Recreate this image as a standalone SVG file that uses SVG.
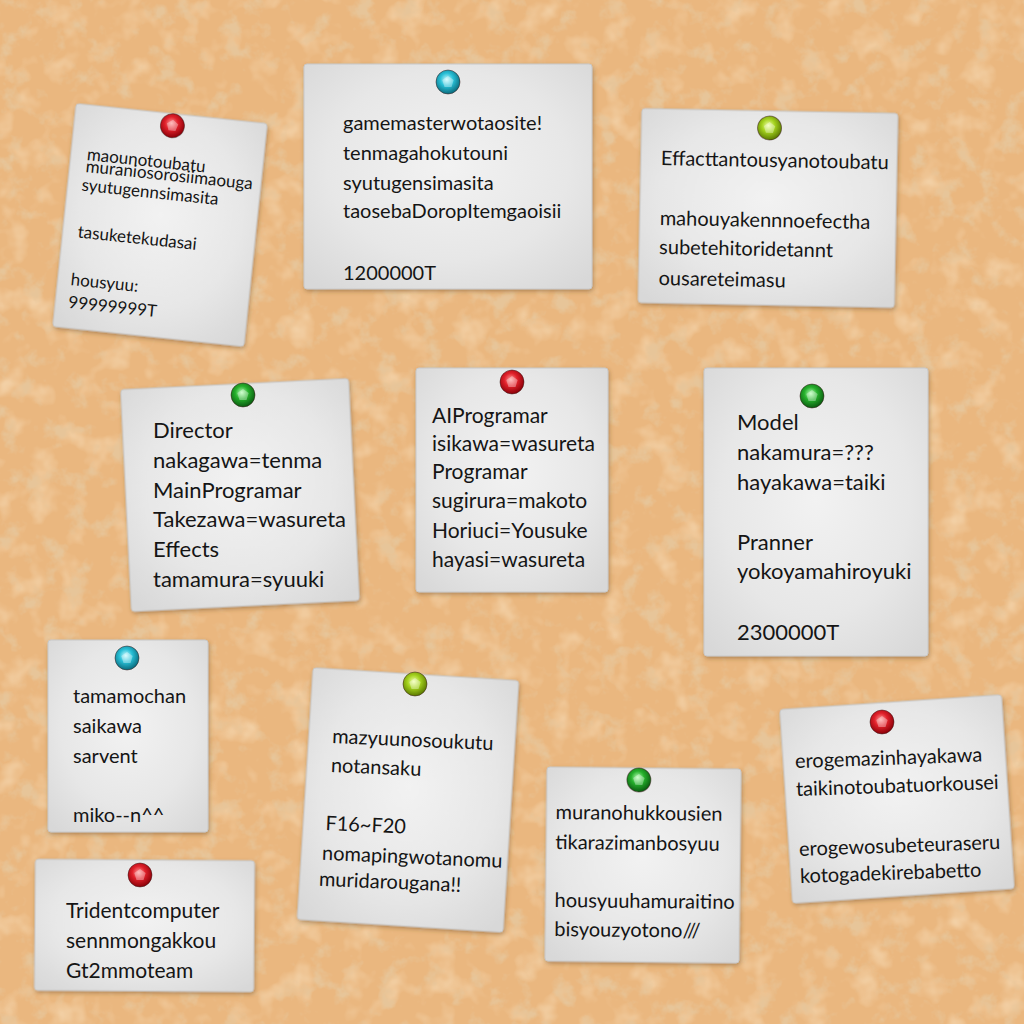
<svg xmlns="http://www.w3.org/2000/svg" width="1024" height="1024" viewBox="0 0 1024 1024">
<defs>
<filter id="corkDark" x="0" y="0" width="100%" height="100%">
<feTurbulence type="fractalNoise" baseFrequency="0.045" numOctaves="4" seed="7"/>
<feColorMatrix type="matrix" values="0 0 0 0 0.80  0 0 0 0 0.56  0 0 0 0 0.32  4 0 0 0 -2.15"/>
</filter>
<filter id="corkLight" x="0" y="0" width="100%" height="100%">
<feTurbulence type="fractalNoise" baseFrequency="0.035" numOctaves="3" seed="21"/>
<feColorMatrix type="matrix" values="0 0 0 0 0.96  0 0 0 0 0.80  0 0 0 0 0.58  0 1.4 0 0 -0.72"/>
</filter>
<filter id="shadow" x="-10%" y="-10%" width="120%" height="120%">
<feDropShadow dx="1" dy="2" stdDeviation="2" flood-color="#6b4a20" flood-opacity="0.45"/>
</filter>
<radialGradient id="paper" cx="50%" cy="45%" r="70%">
<stop offset="0" stop-color="#f2f2f2"/>
<stop offset="0.6" stop-color="#e7e7e7"/>
<stop offset="1" stop-color="#d8d8d8"/>
</radialGradient>
<radialGradient id="gRed" cx="45%" cy="40%" r="60%">
<stop offset="0" stop-color="#ff9a9a"/>
<stop offset="0.45" stop-color="#e0202a"/>
<stop offset="1" stop-color="#8a0008"/>
</radialGradient>
<radialGradient id="gCyan" cx="45%" cy="40%" r="60%">
<stop offset="0" stop-color="#c8fbff"/>
<stop offset="0.45" stop-color="#28bfd6"/>
<stop offset="1" stop-color="#0a6a7c"/>
</radialGradient>
<radialGradient id="gLime" cx="45%" cy="40%" r="60%">
<stop offset="0" stop-color="#f0ffa8"/>
<stop offset="0.45" stop-color="#a4d21e"/>
<stop offset="1" stop-color="#5a7800"/>
</radialGradient>
<radialGradient id="gGreen" cx="45%" cy="40%" r="60%">
<stop offset="0" stop-color="#b4ffb4"/>
<stop offset="0.45" stop-color="#26b02c"/>
<stop offset="1" stop-color="#0a5a10"/>
</radialGradient>
<g id="facet">
<polygon points="0,-6 5.7,-1.9 3.5,4.9 -3.5,4.9 -5.7,-1.9" fill="#ffffff" fill-opacity="0.35"/>
</g>
</defs>
<style>
.paper { fill: url(#paper); stroke: #c8c8c8; stroke-width: 1; filter: url(#shadow); }
.pin { stroke: #3a1a1a; stroke-opacity: 0.5; stroke-width: 1; }
.red { fill: url(#gRed); }
.cyan { fill: url(#gCyan); }
.lime { fill: url(#gLime); }
.green { fill: url(#gGreen); }
.t { font-family: "Lato", "Open Sans", "DejaVu Sans", sans-serif; fill: #151515; }
.s17 { font-size: 17px; }
.s20 { font-size: 20px; }
.s21 { font-size: 21px; }
.s22 { font-size: 22px; }
</style>

<g id="board">
<rect x="0" y="0" width="1024" height="1024" fill="#eab77f"/>
<rect x="0" y="0" width="1024" height="1024" filter="url(#corkLight)"/>
<rect x="0" y="0" width="1024" height="1024" filter="url(#corkDark)"/>
</g>

<g id="note-maou" transform="rotate(6 160 225)">
<rect class="paper" x="64" y="113" width="192" height="224" rx="3"/>
<circle class="pin red" cx="162" cy="125" r="12"/>
<use href="#facet" x="162" y="125"/>
<g class="t s17">
<text x="80" y="168">maounotoubatu</text>
<text x="80" y="180">muraniosorosiimaouga</text>
<text x="78" y="199">syutugennsimasita</text>
<text x="79" y="246">tasuketekudasai</text>
<text x="77" y="294">housyuu:</text>
<text x="77" y="317">99999999T</text>
</g>
</g>

<g id="note-gamemaster">
<rect class="paper" x="304" y="64" width="288" height="225" rx="3"/>
<circle class="pin cyan" cx="448" cy="82" r="12"/>
<use href="#facet" x="448" y="82"/>
<g class="t s20">
<text x="343" y="130">gamemasterwotaosite!</text>
<text x="343" y="160">tenmagahokutouni</text>
<text x="343" y="190">syutugensimasita</text>
<text x="343" y="218">taosebaDoropItemgaoisii</text>
<text x="343" y="280">1200000T</text>
</g>
</g>

<g id="note-effact" transform="rotate(1.1 768 208)">
<rect class="paper" x="640" y="111" width="256" height="194" rx="3"/>
<circle class="pin lime" cx="768" cy="128" r="12"/>
<use href="#facet" x="768" y="128"/>
<g class="t s20">
<text x="660" y="167">Effacttantousyanotoubatu</text>
<text x="660" y="227">mahouyakennnoefectha</text>
<text x="660" y="256">subetehitoridetannt</text>
<text x="660" y="287">ousareteimasu</text>
</g>
</g>

<g id="note-director">
<rect class="paper" x="126" y="384" width="228" height="222" rx="3" transform="rotate(-2.8 240 495)"/>
<circle class="pin green" cx="243" cy="395" r="12"/>
<use href="#facet" x="243" y="395"/>
<g class="t s22">
<text x="153" y="438">Director</text>
<text x="153" y="468">nakagawa=tenma</text>
<text x="153" y="498">MainProgramar</text>
<text x="153" y="527">Takezawa=wasureta</text>
<text x="153" y="557">Effects</text>
<text x="153" y="587">tamamura=syuuki</text>
</g>
</g>

<g id="note-ai">
<rect class="paper" x="416" y="368" width="192" height="224" rx="3"/>
<circle class="pin red" cx="512" cy="382" r="12"/>
<use href="#facet" x="512" y="382"/>
<g class="t s21">
<text x="432" y="423">AIProgramar</text>
<text x="432" y="451">isikawa=wasureta</text>
<text x="432" y="479">Programar</text>
<text x="432" y="508">sugirura=makoto</text>
<text x="432" y="538">Horiuci=Yousuke</text>
<text x="432" y="567">hayasi=wasureta</text>
</g>
</g>

<g id="note-model">
<rect class="paper" x="704" y="368" width="224" height="288" rx="3"/>
<circle class="pin green" cx="812" cy="396" r="12"/>
<use href="#facet" x="812" y="396"/>
<g class="t s22">
<text x="737" y="430">Model</text>
<text x="737" y="460">nakamura=???</text>
<text x="737" y="490">hayakawa=taiki</text>
<text x="737" y="550">Pranner</text>
<text x="737" y="579">yokoyamahiroyuki</text>
<text x="737" y="640">2300000T</text>
</g>
</g>

<g id="note-tamamochan">
<rect class="paper" x="48" y="640" width="160" height="192" rx="3"/>
<circle class="pin cyan" cx="127" cy="658" r="12"/>
<use href="#facet" x="127" y="658"/>
<g class="t s20">
<text x="73" y="703">tamamochan</text>
<text x="73" y="733">saikawa</text>
<text x="73" y="763">sarvent</text>
<text x="73" y="822">miko--n^^</text>
</g>
</g>

<g id="note-trident">
<rect class="paper" x="35" y="860" width="219" height="131" rx="3" transform="rotate(0.4 144 925)"/>
<circle class="pin red" cx="140" cy="875" r="12"/>
<use href="#facet" x="140" y="875"/>
<g class="t s21">
<text x="66" y="918">Tridentcomputer</text>
<text x="66" y="948">sennmongakkou</text>
<text x="66" y="978">Gt2mmoteam</text>
</g>
</g>

<g id="note-mazyuu">
<rect class="paper" x="305" y="674" width="206" height="252" rx="3" transform="rotate(3.6 408 800)"/>
<circle class="pin lime" cx="415" cy="684" r="12"/>
<use href="#facet" x="415" y="684"/>
<g class="t s20" transform="rotate(2.5 328 810)">
<text x="329" y="743">mazyuunosoukutu</text>
<text x="329" y="772">notansaku</text>
<text x="326" y="830">F16~F20</text>
<text x="324" y="860">nomapingwotanomu</text>
<text x="322" y="886">muridarougana!!</text>
</g>
</g>

<g id="note-muranohukkou" transform="rotate(0.6 643 865)">
<rect class="paper" x="546" y="768" width="194" height="194" rx="3"/>
<circle class="pin green" cx="638" cy="780" r="12"/>
<use href="#facet" x="638" y="780"/>
<g class="t s20">
<text x="555" y="820">muranohukkousien</text>
<text x="555" y="850">tikarazimanbosyuu</text>
<text x="555" y="908">housyuuhamuraitino</text>
<text x="555" y="937">bisyouzyotono///</text>
</g>
</g>

<g id="note-erogemazin">
<rect class="paper" x="786" y="702" width="222" height="194" rx="3" transform="rotate(-3.8 897 799)"/>
<circle class="pin red" cx="882" cy="722" r="12"/>
<use href="#facet" x="882" y="722"/>
<g class="t s20" transform="rotate(-2 797 820)">
<text x="797" y="768">erogemazinhayakawa</text>
<text x="797" y="796">taikinotoubatuorkousei</text>
<text x="798" y="856">erogewosubeteuraseru</text>
<text x="798" y="883">kotogadekirebabetto</text>
</g>
</g>
</svg>
